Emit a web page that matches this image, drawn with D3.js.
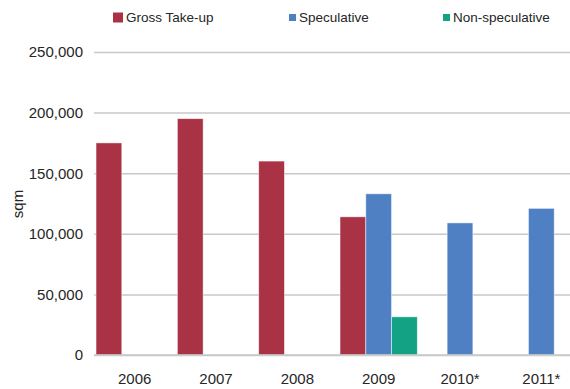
<!DOCTYPE html>
<head>
    <meta charset="utf-8">
    <script src="https://d3js.org/d3.v7.min.js"></script>
    <style>
        body { margin: 0; font-family: "Liberation Sans", Arial, sans-serif; }
        .grid line { stroke: #c8c8c8; stroke-width: 1.5px; }
        .grid path { display: none; }
        .axis text { font-size: 15px; fill: #262626; }
        .axis path, .axis line { display: none; }
        .legend text { font-size: 13.5px; fill: #262626; }
    </style>
</head>
<body>
<div id="chart"></div>
<script>
    // categories and series
    var years = ["2006", "2007", "2008", "2009", "2010*", "2011*"];
    var seriesNames = ["Gross Take-up", "Speculative", "Non-speculative"];
    var grossTakeUp = [175000, 195000, 160000, 114000, null, null];
    var speculative = [null, null, null, 133000, 109000, 121000];
    var nonSpeculative = [null, null, null, 31500, null, null];
    var yTicks = [0, 50000, 100000, 150000, 200000, 250000];

    var colors = ["#a93244", "#4f80c4", "#14a285"];
    var width = 570, height = 389;
    var margin = { top: 52, right: -12, bottom: 34, left: 94 };

    var svg = d3.select("#chart").append("svg")
        .attr("width", width)
        .attr("height", height);

    var x0 = d3.scaleBand()
        .domain(years)
        .range([margin.left, width - margin.right])
        .paddingInner(0.05)
        .paddingOuter(0.025);

    var x1 = d3.scaleBand()
        .domain(seriesNames)
        .range([0, x0.bandwidth()]);

    var y = d3.scaleLinear()
        .domain([0, 250000])
        .range([height - margin.bottom, margin.top]);

    // horizontal gridlines
    svg.append("g")
        .attr("class", "grid")
        .attr("transform", "translate(" + margin.left + ",0)")
        .call(d3.axisLeft(y).tickValues(yTicks).tickSize(-(width - margin.left)).tickFormat(""));

    var table = years.map(function (yr, i) {
        return { year: yr, values: [grossTakeUp[i], speculative[i], nonSpeculative[i]] };
    });

    svg.append("g").selectAll("g")
        .data(table)
        .join("g")
        .attr("transform", function (d) { return "translate(" + x0(d.year) + ",0)"; })
        .selectAll("rect")
        .data(function (d) {
            return d.values.map(function (v, j) { return { key: seriesNames[j], value: v, idx: j }; })
                .filter(function (e) { return e.value != null; });
        })
        .join("rect")
        .attr("x", function (d) { return x1(d.key); })
        .attr("width", x1.bandwidth())
        .attr("y", function (d) { return y(d.value); })
        .attr("height", function (d) { return y(0) - y(d.value); })
        .attr("fill", function (d) { return colors[d.idx]; })
        .attr("stroke", "#fff")
        .attr("stroke-opacity", 0.6)
        .attr("stroke-width", 0.8);

    // zero line on top
    svg.append("line")
        .attr("x1", margin.left).attr("x2", width)
        .attr("y1", y(0)).attr("y2", y(0))
        .attr("stroke", "#c8c8c8").attr("stroke-width", 1.5);

    // y axis labels
    svg.append("g")
        .attr("class", "axis")
        .attr("transform", "translate(" + (margin.left - 6) + ",0)")
        .call(d3.axisLeft(y).tickValues(yTicks).tickSize(0).tickPadding(5).tickFormat(d3.format(",")));

    // x axis labels
    svg.append("g")
        .attr("class", "axis")
        .attr("transform", "translate(0," + y(0) + ")")
        .call(d3.axisBottom(x0).tickSize(0).tickPadding(18));

    svg.append("text")
        .attr("transform", "translate(23," + 204 + ") rotate(-90)")
        .attr("text-anchor", "middle")
        .style("font-size", "15px")
        .style("fill", "#262626")
        .text("sqm");

    // legend
    var legendX = [113, 289, 443];
    var swatch = [10, 7, 7];
    var legend = svg.append("g").attr("class", "legend")
        .selectAll("g")
        .data(seriesNames)
        .join("g")
        .attr("transform", function (d, i) { return "translate(" + legendX[i] + ",0)"; });
    legend.append("rect")
        .attr("y", function (d, i) { return 17.5 - swatch[i] / 2; })
        .attr("width", function (d, i) { return swatch[i]; })
        .attr("height", function (d, i) { return swatch[i]; })
        .attr("fill", function (d, i) { return colors[i]; });
    legend.append("text")
        .attr("x", function (d, i) { return swatch[i] + 3; })
        .attr("y", 22)
        .text(function (d) { return d; });
</script>
</body>
